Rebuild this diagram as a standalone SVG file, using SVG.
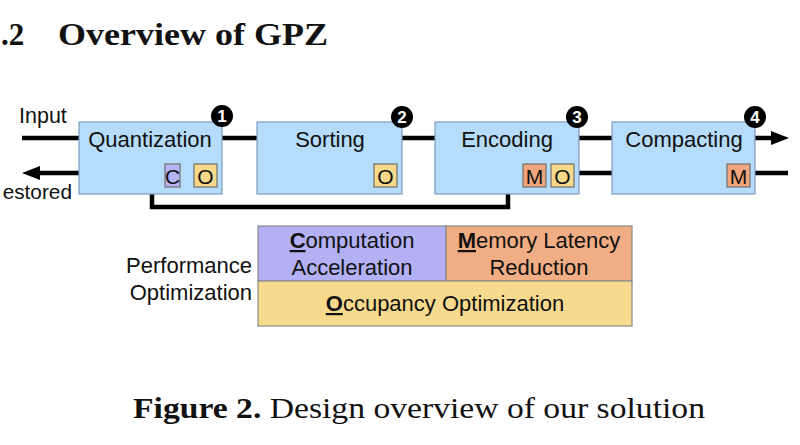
<svg xmlns="http://www.w3.org/2000/svg" width="800" height="445" viewBox="0 0 800 445">
<defs>
<marker id="arr" markerUnits="userSpaceOnUse" markerWidth="20" markerHeight="16" refX="0" refY="7" orient="auto">
<path d="M0,0 L18,7 L0,14 z" fill="#000"/>
</marker>
</defs>
<style>
.sans{font-family:"Liberation Sans",Arial,Helvetica,sans-serif;fill:#111}
.serif{font-family:"Liberation Serif","Times New Roman",serif;fill:#111}
.box{fill:#b5dcfa;stroke:#7d9cc0;stroke-width:1.2}
.lbl{font-size:22px;text-anchor:middle}
.tag{stroke:#6f6f6f;stroke-width:1.2}
.tc{fill:#b7b3f4}.to{fill:#f8d98a}.tm{fill:#f0a57c}
.tagt{font-size:21px;text-anchor:middle}
.badge{fill:#000}
.bn{font-family:"Liberation Sans",Arial,sans-serif;font-weight:bold;font-size:17px;fill:#fff;text-anchor:middle}
.wire{stroke:#000;stroke-width:4.5;fill:none}
.cell{stroke:#8a8a8a;stroke-width:1.2}
.u{font-weight:bold;text-decoration:underline}
.leg{font-size:22px}
</style>
<text class="serif" x="1" y="45" font-size="31" font-weight="bold">.2</text>
<text class="serif" x="58" y="45" font-size="31" font-weight="bold" textLength="270" lengthAdjust="spacingAndGlyphs">Overview of GPZ</text>

<g id="connectors">
<path class="wire" d="M22 138 H79"/>
<path class="wire" d="M222 138 H257"/>
<path class="wire" d="M402 138 H435"/>
<path class="wire" d="M579 138 H612"/>
<path class="wire" d="M755 138 H771" marker-end="url(#arr)"/>
<path class="wire" d="M79 173 H40" marker-end="url(#arr)"/>
<path class="wire" d="M579 173 H612"/>
<path class="wire" d="M755 173 H788"/>
<path class="wire" d="M152 194 V207 H508 V194"/>
</g>

<text class="sans" x="19" y="123" font-size="21.5">Input</text>
<text class="sans" x="72" y="199" font-size="20.8" text-anchor="end">estored</text>

<g id="quantization">
<rect class="box" x="79" y="122" width="143" height="72"/>
<text class="sans lbl" x="150" y="147">Quantization</text>
<rect class="tag tc" x="165" y="164" width="15" height="23"/>
<text class="sans tagt" x="172.5" y="183.5">C</text>
<rect class="tag to" x="194" y="164" width="23" height="23"/>
<text class="sans tagt" x="205.5" y="183.5">O</text>
<circle class="badge" cx="222" cy="116" r="11"/>
<text class="bn" x="222" y="122">1</text>
</g>

<g id="sorting">
<rect class="box" x="257" y="122" width="145" height="72"/>
<text class="sans lbl" x="330" y="147">Sorting</text>
<rect class="tag to" x="374" y="164" width="23" height="23"/>
<text class="sans tagt" x="385.5" y="183.5">O</text>
<circle class="badge" cx="402" cy="117" r="11"/>
<text class="bn" x="402" y="123">2</text>
</g>

<g id="encoding">
<rect class="box" x="435" y="122" width="144" height="72"/>
<text class="sans lbl" x="507" y="147">Encoding</text>
<rect class="tag tm" x="523" y="164" width="23" height="23"/>
<text class="sans tagt" x="534.5" y="183.5">M</text>
<rect class="tag to" x="551" y="164" width="23" height="23"/>
<text class="sans tagt" x="562.5" y="183.5">O</text>
<circle class="badge" cx="577" cy="117" r="11"/>
<text class="bn" x="577" y="123">3</text>
</g>

<g id="compacting">
<rect class="box" x="612" y="122" width="143" height="72"/>
<text class="sans lbl" x="684" y="147">Compacting</text>
<rect class="tag tm" x="727" y="164" width="23" height="23"/>
<text class="sans tagt" x="738.5" y="183.5">M</text>
<circle class="badge" cx="755" cy="117" r="11"/>
<text class="bn" x="755" y="123">4</text>
</g>

<g id="legend">
<text class="sans leg" x="252" y="273" text-anchor="end">Performance</text>
<text class="sans leg" x="252" y="300" text-anchor="end">Optimization</text>
<rect class="cell" x="258" y="226" width="188" height="55" fill="#b3b0f5"/>
<rect class="cell" x="446" y="226" width="186" height="55" fill="#f1ad84"/>
<rect class="cell" x="258" y="281" width="374" height="45" fill="#f8da8e"/>
<text class="sans leg" x="352" y="248" text-anchor="middle"><tspan class="u">C</tspan>omputation</text>
<text class="sans leg" x="352" y="275" text-anchor="middle">Acceleration</text>
<text class="sans leg" x="539" y="248" text-anchor="middle"><tspan class="u">M</tspan>emory Latency</text>
<text class="sans leg" x="539" y="275" text-anchor="middle">Reduction</text>
<text class="sans leg" x="445" y="311" text-anchor="middle"><tspan class="u">O</tspan>ccupancy Optimization</text>
</g>

<text class="serif" x="133" y="418" font-size="29" textLength="572" lengthAdjust="spacingAndGlyphs"><tspan font-weight="bold">Figure 2.</tspan> Design overview of our solution</text>
</svg>
